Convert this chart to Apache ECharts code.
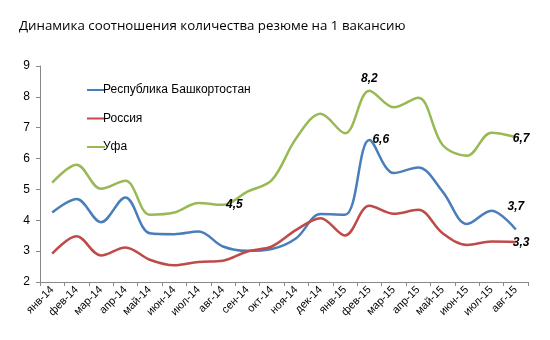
<!DOCTYPE html>
<html><head><meta charset="utf-8">
<script src="https://cdn.jsdelivr.net/npm/echarts@6/dist/echarts.min.js"></script>
<style>html,body{margin:0;padding:0;background:#fff}#c{width:550px;height:340px}</style>
</head><body><div id="c"></div>
<script>
const categories = ['янв-14','фев-14','мар-14','апр-14','май-14','июн-14','июл-14','авг-14','сен-14','окт-14','ноя-14','дек-14','янв-15','фев-15','мар-15','апр-15','май-15','июн-15','июл-15','авг-15'];
const bashkortostan = [4.25,4.69,3.94,4.74,3.58,3.55,3.64,3.15,3.01,3.07,3.42,4.2,4.18,6.6,5.53,5.71,4.93,3.88,4.31,3.7];
const russia = [2.92,3.48,2.86,3.12,2.72,2.54,2.65,2.69,2.99,3.15,3.69,4.07,3.51,4.47,4.21,4.34,3.58,3.2,3.31,3.3];
const ufa = [5.22,5.8,5.02,5.28,4.18,4.25,4.56,4.5,4.93,5.3,6.66,7.45,6.82,8.2,7.66,7.97,6.44,6.09,6.84,6.7];
const yTicks = [2,3,4,5,6,7,8,9];
const seriesNames = ['Республика Башкортостан','Россия','Уфа'];
// indices of labelled points per series, with label placement
const labelled = [
  {13:'right', 19:'top'},
  {19:'right'},
  {7:'right', 13:'top', 19:'right'}
];
const colors = ['#4A7EBB','#BE4B48','#98B954'];
const dataSets = [bashkortostan, russia, ufa];

function labelStyle(i,k,pos){
  let distance = 3, offset = [0,0];
  if(pos==='top'){ distance = (i===0) ? 17 : 6; }
  if(k===19 && pos==='right'){ distance = 0; offset = [-3, i===2 ? 2 : 1]; }
  return {show:true, position:pos, distance, offset,
    formatter:p=>p.value.toFixed(1).replace('.',','),
    fontStyle:'italic', fontWeight:'bold', fontSize:12, color:'#000', fontFamily:'Liberation Sans, Arial'};
}
function mk(i){
  return {
    name: seriesNames[i], type:'line', smooth:0.35, symbol:'circle', symbolSize:0.01, showSymbol:true,
    lineStyle:{width:2.5,color:colors[i]}, itemStyle:{color:colors[i]},
    label:{show:false},
    emphasis:{disabled:true},
    data: dataSets[i].map((v,k)=>{
      const pos = labelled[i][k];
      if(!pos) return v;
      return {value:v, label:labelStyle(i,k,pos)};
    })
  };
}
const chart = echarts.init(document.getElementById('c'));
chart.setOption({
  animation:false,
  title:{text:'Динамика соотношения количества резюме на 1 вакансию', left:14, top:15,
    textStyle:{fontSize:13.3, fontWeight:'normal', color:'#000', fontFamily:'Open Sans, Liberation Sans, sans-serif'}},
  legend:{orient:'vertical', left:82, top:79, itemGap:16.5, itemWidth:18, itemHeight:10,
    data: seriesNames.map(n=>({name:n, icon:'path://M0,4L18,4L18,6L0,6Z'})),
    textStyle:{fontSize:12, color:'#000', fontFamily:'Liberation Sans, Arial', padding:[0,0,0,-7]}},
  grid:{left:40, right:22, top:66, bottom:58},
  xAxis:{type:'category', data:categories, boundaryGap:true,
    axisLine:{lineStyle:{color:'#888'}}, axisTick:{show:true, interval:0, alignWithLabel:false, length:4, lineStyle:{color:'#888'}},
    axisLabel:{interval:0, rotate:45, fontSize:11, color:'#000', margin:6, fontFamily:'Liberation Sans, Arial'}},
  yAxis:{type:'value', min:yTicks[0], max:yTicks[yTicks.length-1], interval:1,
    splitLine:{show:false},
    axisLine:{show:true, lineStyle:{color:'#888'}}, axisTick:{show:true, length:4, lineStyle:{color:'#888'}},
    axisLabel:{fontSize:12, color:'#000', margin:10, fontFamily:'Liberation Sans, Arial'}},
  series:[mk(0),mk(1),mk(2)]
});
</script></body></html>
